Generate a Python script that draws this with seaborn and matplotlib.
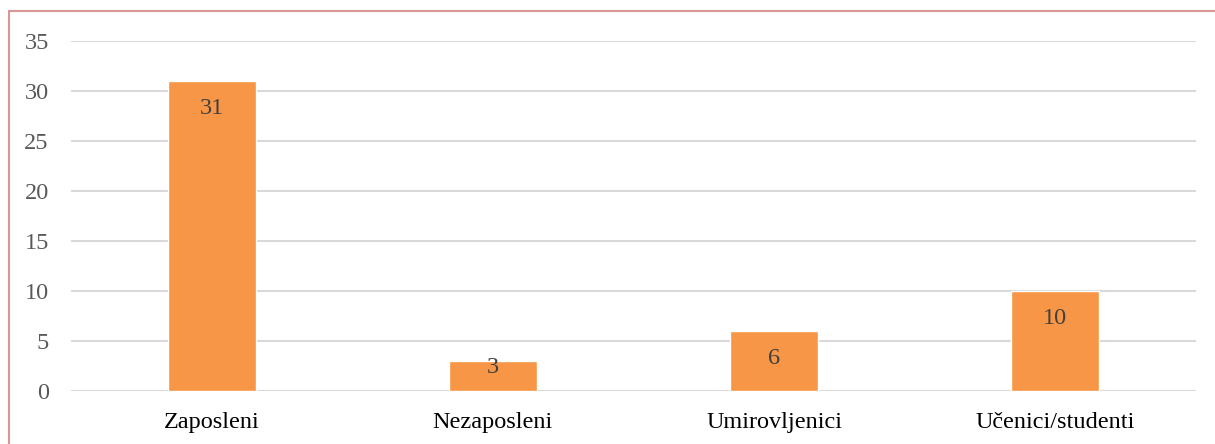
import matplotlib
matplotlib.use("Agg")
import matplotlib.pyplot as plt
import seaborn as sns
import pandas as pd
from matplotlib.patches import Rectangle

categories = ["Zaposleni", "Nezaposleni", "Umirovljenici", "Učenici/studenti"]
values = [31, 3, 6, 10]
yticks = [0, 5, 10, 15, 20, 25, 30, 35]

df = pd.DataFrame({"cat": categories, "val": values})

sns.set_theme(style="white")
plt.rcParams["font.family"] = ["Liberation Serif", "DejaVu Serif"]

W, H = 1215, 444
fig = plt.figure(figsize=(W / 100, H / 100), dpi=100)
ax = fig.add_axes([71 / W, (H - 391) / H, (1196 - 71) / W, (391 - 41) / H])

sns.barplot(data=df, x="cat", y="val", ax=ax, color="#F79646", saturation=1,
            width=0.313, zorder=3)

ax.set_ylim(0, 35)
ax.set_xlim(-0.5, len(categories) - 0.5)
ax.set_yticks(yticks)
ax.set_yticklabels([str(t) for t in yticks])
ax.yaxis.grid(True, color="#D9D9D9", linewidth=1.5, zorder=0)
ax.xaxis.grid(False)
for s in ax.spines.values():
    s.set_visible(False)
ax.set_xlabel("")
ax.set_ylabel("")
ax.tick_params(axis="y", length=0, pad=16, labelsize=17.5, labelcolor="#595959")
ax.tick_params(axis="x", length=0, pad=15, labelsize=17.5, labelcolor="#000000")

for i, v in enumerate(values):
    off = -19.5 if v >= 5 else -4.5
    ax.annotate(str(v), (i, v), xytext=(0, off), textcoords="offset points",
                ha="center", va="center", fontsize=17.5, color="#404040", zorder=4)

fig.patches.append(Rectangle((8.5 / W, -0.1), 1.2, (H - 11.5) / H + 0.1,
                             transform=fig.transFigure, fill=False,
                             edgecolor="#D99694", linewidth=1.5))

fig.savefig("out.png", dpi=100)
